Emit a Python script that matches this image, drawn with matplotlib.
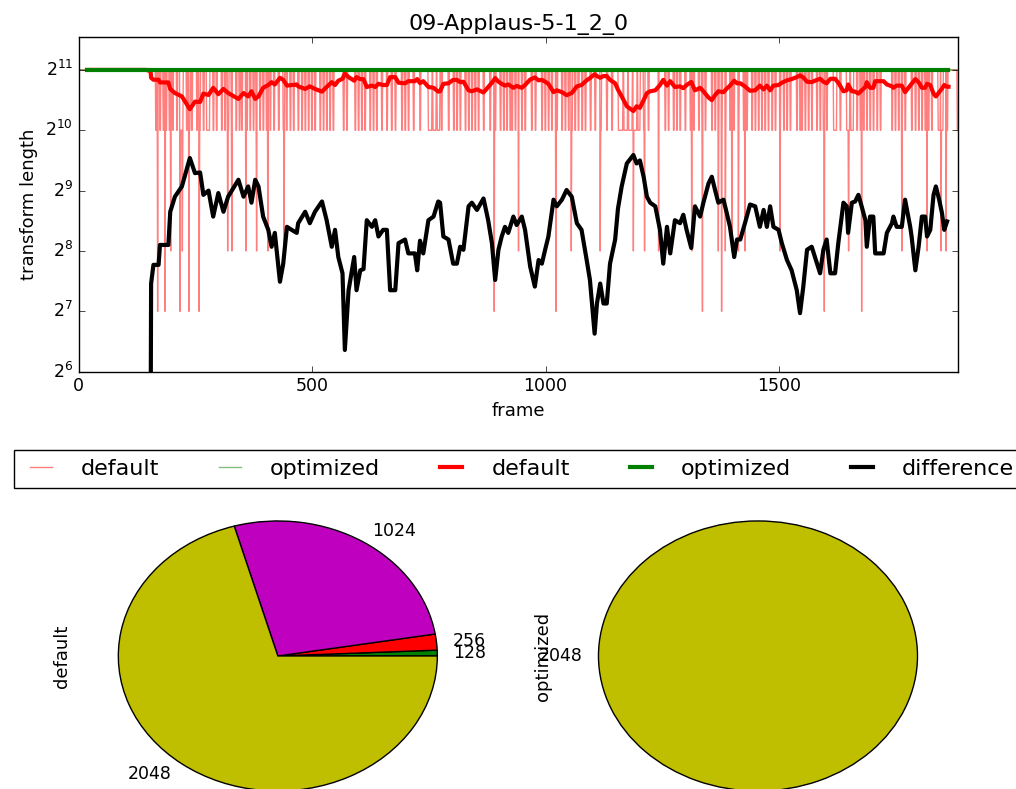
import numpy as np
import matplotlib
matplotlib.use("Agg")
import matplotlib.pyplot as plt

plt.style.use('classic')

title = '09-Applaus-5-1_2_0'
n_frames = 1884

# per-frame transform length chosen by the default coder (2048 unless listed)
spikes_1024 = [165, 174, 181, 187, 194, 201, 210, 231, 237, 242, 253, 259, 267,
               288, 295, 306, 313, 320, 327, 337, 344, 349, 360, 367, 374, 380,
               388, 395, 402, 410, 418, 428, 438, 445, 453, 460, 470, 478, 485,
               492, 499, 506, 517, 524, 531, 538, 545, 567, 574, 592, 599, 606,
               613, 624, 631, 638, 649, 660, 670, 678, 692, 699, 706, 717, 731,
               777, 792, 803, 810, 817, 828, 835, 842, 849, 856, 867, 881, 892,
               903, 910, 917, 924, 928, 935, 949, 956, 970, 978, 992, 999, 1006,
               1013, 1024, 1035, 1042, 1049, 1056, 1063, 1070, 1078, 1085, 1096,
               1106, 1118, 1131, 1142, 1210, 1220, 1256, 1263, 1274, 1281, 1288,
               1299, 1310, 1317, 1328, 1335, 1342, 1356, 1363, 1370, 1377, 1385,
               1395, 1403, 1413, 1424, 1431, 1442, 1449, 1456, 1463, 1470, 1477,
               1485, 1492, 1502, 1510, 1517, 1524, 1538, 1545, 1549, 1556, 1563,
               1570, 1581, 1588, 1595, 1602, 1631, 1667, 1674, 1681, 1688, 1695,
               1702, 1710, 1717, 1742, 1749, 1756, 1763, 1770, 1784, 1792, 1799,
               1806, 1813, 1820, 1827, 1860, 1882]
blocks_1024 = [(217, 224), (274, 281), (749, 757), (759, 766), (768, 774),
               (1156, 1166), (1168, 1176), (1178, 1186), (1189, 1196),
               (1198, 1203), (1617, 1624), (1645, 1652), (1654, 1660),
               (1841, 1846), (1848, 1852)]
low_256 = [197, 222, 319, 328, 358, 381, 405, 440, 942, 1055, 1117, 1188, 1212,
           1242, 1313, 1370, 1385, 1399, 1413, 1427, 1502, 1649, 1763, 1817,
           1847, 1858]
low_128 = [169, 185, 217, 236, 258, 890, 1022, 1336, 1377, 1597, 1677]

# smoothed difference (optimized - default), log2 of transform length
diff_frames = [154, 155, 160, 171, 174, 192, 196, 206, 221, 238, 249, 260, 267,
               278, 288, 299, 310, 320, 342, 353, 363, 370, 378, 385, 395, 406,
               413, 420, 431, 438, 446, 456, 467, 470, 485, 495, 506, 521, 531,
               542, 549, 556, 565, 570, 578, 590, 595, 603, 610, 617, 628, 635,
               642, 652, 660, 667, 678, 685, 699, 706, 720, 725, 731, 738, 749,
               760, 770, 774, 781, 792, 802, 810, 817, 824, 835, 842, 853, 867,
               877, 885, 892, 899, 906, 913, 920, 931, 938, 949, 956, 967, 977,
               985, 992, 999, 1006, 1017, 1024, 1035, 1045, 1056, 1067, 1077,
               1088, 1095, 1105, 1110, 1117, 1124, 1131, 1138, 1149, 1155, 1163,
               1174, 1188, 1195, 1202, 1210, 1217, 1224, 1235, 1245, 1252, 1260,
               1267, 1277, 1288, 1295, 1302, 1312, 1320, 1331, 1338, 1349, 1356,
               1363, 1370, 1381, 1388, 1395, 1404, 1410, 1417, 1427, 1438, 1449,
               1459, 1467, 1474, 1481, 1488, 1499, 1506, 1517, 1527, 1538, 1545,
               1552, 1560, 1570, 1577, 1588, 1595, 1602, 1610, 1620, 1627, 1638,
               1645, 1648, 1656, 1663, 1670, 1677, 1685, 1688, 1695, 1702, 1706,
               1724, 1731, 1742, 1745, 1752, 1763, 1770, 1781, 1784, 1792, 1799,
               1806, 1813, 1817, 1824, 1831, 1836, 1843, 1849, 1854, 1860]
diff_log2 = [5.0, 7.46, 7.77, 7.77, 8.1, 8.1, 8.65, 8.9, 9.07, 9.54, 9.29, 9.3,
             8.93, 9.0, 8.57, 8.96, 8.65, 8.9, 9.18, 8.9, 9.07, 8.8, 9.18, 9.07,
             8.57, 8.35, 8.07, 8.3, 7.49, 7.79, 8.4, 8.35, 8.3, 8.46, 8.65, 8.46,
             8.65, 8.82, 8.51, 8.07, 8.35, 7.9, 7.63, 6.36, 7.35, 7.9, 7.35, 7.68,
             7.7, 8.51, 8.4, 8.51, 8.24, 8.35, 8.35, 7.35, 7.35, 8.13, 8.19, 7.96,
             7.96, 7.68, 8.17, 7.96, 8.51, 8.57, 8.82, 8.8, 8.24, 8.19, 7.79,
             7.79, 8.07, 8.02, 8.74, 8.8, 8.68, 8.87, 8.51, 8.13, 7.52, 8.02,
             8.24, 8.4, 8.3, 8.57, 8.43, 8.57, 8.35, 7.74, 7.41, 7.85, 7.79, 8.02,
             8.24, 8.85, 8.74, 8.85, 9.01, 8.9, 8.46, 8.35, 7.85, 7.52, 6.63,
             7.13, 7.46, 7.13, 7.13, 7.79, 8.19, 8.7, 9.07, 9.45, 9.59, 9.45, 9.5,
             9.23, 8.9, 8.8, 8.74, 8.35, 7.79, 8.4, 7.96, 8.51, 8.46, 8.6, 8.35,
             8.05, 8.74, 8.57, 8.8, 9.12, 9.23, 9.01, 8.8, 8.85, 8.63, 8.4, 7.9,
             8.19, 8.19, 8.46, 8.77, 8.74, 8.4, 8.68, 8.4, 8.74, 8.4, 8.35, 8.13,
             7.85, 7.68, 7.35, 6.97, 7.41, 8.02, 8.07, 7.9, 7.63, 8.02, 8.19,
             7.63, 7.63, 8.13, 8.8, 8.74, 8.3, 8.8, 8.82, 8.93, 8.74, 8.51, 8.07,
             8.57, 8.57, 7.96, 7.96, 8.3, 8.46, 8.57, 8.4, 8.4, 8.85, 8.4, 8.24,
             7.68, 8.07, 8.57, 8.57, 8.24, 8.35, 8.93, 9.07, 8.85, 8.63, 8.35,
             8.49]

smooth_start, smooth_end = 18, 1863

# share of frames per transform length
pie_labels = ['128', '256', '1024', '2048']
pie_colors = ['g', 'r', 'm', 'y']
default_counts = [13, 36, 505, 1330]
optimized_counts = [0, 0, 0, 1884]

frames = np.arange(n_frames)
thin_default = np.full(n_frames, 2048.0)
for s in spikes_1024:
    thin_default[s:s + 2] = 1024
for a, b in blocks_1024:
    thin_default[a:b] = 1024
thin_default[low_256] = 256
thin_default[low_128] = 128
thin_optimized = np.full(n_frames, 2048.0)

diff = 2.0 ** np.array(diff_log2)
smooth_frames = np.r_[smooth_start, 145, diff_frames, smooth_end]
smooth_default = np.r_[2048, 2048, 2048 - diff, 2048 - diff[-1]]
smooth_optimized = np.full(2, 2048.0)

fig = plt.figure(figsize=(10.16, 7.89))

ax = fig.add_axes([0.0775, 0.5289, 0.8657, 0.4238])
ax.plot(frames, thin_default, color='r', alpha=0.5, lw=1, label='default')
ax.plot(frames, thin_optimized, color='g', alpha=0.5, lw=1, label='optimized')
ax.plot(smooth_frames, smooth_default, color='r', lw=3, label='default')
ax.plot([smooth_start, smooth_end], smooth_optimized, color='g', lw=3,
        label='optimized')
ax.plot(diff_frames, diff, color='k', lw=3, label='difference')
ax.set_yscale('log', base=2)
ax.set_ylim(64, 2 ** 11.54)
ax.set_xlim(0, n_frames)
ax.set_xticks([0, 500, 1000, 1500])
ax.tick_params(labelsize=12.5)
ax.set_title(title, fontsize=16)
ax.set_xlabel('frame', fontsize=13)
ax.set_ylabel('transform length', fontsize=13)
ax.legend(loc='upper center', bbox_to_anchor=(0.5, -0.234), ncol=5,
          fontsize=16, borderaxespad=0, handlelength=1.6, handletextpad=1.0,
          columnspacing=2.4)

for left, counts, name in [(0.0772, default_counts, 'default'),
                           (0.5498, optimized_counts, 'optimized')]:
    pa = fig.add_axes([left, -0.0453, 0.3925, 0.4278])
    keep = [i for i, c in enumerate(counts) if c > 0]
    pa.pie([counts[i] for i in keep], labels=[pie_labels[i] for i in keep],
           colors=[pie_colors[i] for i in keep], textprops={'fontsize': 12.5})
    pa.set_aspect('auto')
    pa.set_xlim(-1.25, 1.25)
    pa.set_ylim(-1.25, 1.25)
    pa.set_ylabel(name, fontsize=13)

fig.savefig('out.png', dpi=100)
